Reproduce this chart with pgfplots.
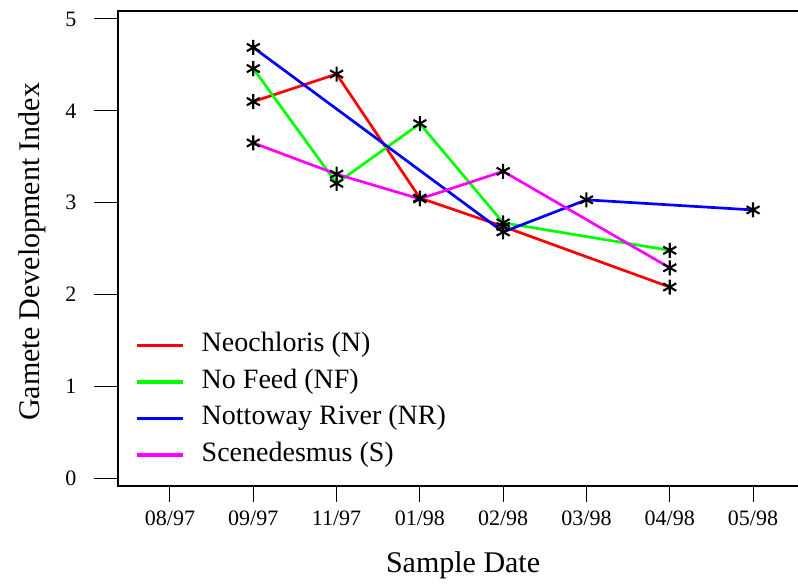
\documentclass[border=0pt]{standalone}
\usepackage{fontspec}
\setmainfont{Liberation Serif}
\usepackage{pgfplots}
\pgfplotsset{compat=1.18}
\usepackage{pgfplotstable}
\definecolor{rN}{RGB}{255,0,0}
\definecolor{gNF}{RGB}{0,255,0}
\definecolor{bNR}{RGB}{0,0,255}
\definecolor{mS}{RGB}{255,0,255}

\pgfplotstableread{
x y
1 4.10
2 4.40
3 3.05
4 2.74
6 2.08
}\neo
\pgfplotstableread{
x y
1 4.46
2 3.21
3 3.86
4 2.78
6 2.48
}\nofeed
\pgfplotstableread{
x y
1 4.69
4 2.68
5 3.03
7 2.92
}\nottoway
\pgfplotstableread{
x y
1 3.65
2 3.31
3 3.04
4 3.34
6 2.29
}\scene

\pgfplotsset{
  common/.style={
    at={(118pt,99pt)}, anchor=south west,
    scale only axis, width=682pt, height=475pt,
    xmin=-0.624, xmax=7.564,
    ymin=-0.087, ymax=5.087,
    tick pos=left, tick align=outside,
    axis line style={line width=1.2pt},
    /pgf/number format/assume math mode=true,
    tick label style={font=\fontsize{22}{24}\selectfont},
    clip=false,
  }
}

\begin{document}
\begin{tikzpicture}[x=1pt,y=1pt]
\useasboundingbox (0,0) rectangle (798,585);
% y ticks axis (no data)
\begin{axis}[common,
  ytick={0,1,2,3,4,5},
  xtick=\empty,
  major tick length=24pt,
  ytick style={black, line width=1pt},
  yticklabel style={xshift=-14pt},
  ylabel={Gamete Development Index},
  every axis y label/.style={at={(axis description cs:-0.125,0.493)}, anchor=center, rotate=90,
    font=\fontsize{30}{34}\selectfont},
]
\end{axis}
\begin{axis}[common,
  xtick={0,1,2,3,4,5,6,7},
  xticklabels={08/97,09/97,11/97,01/98,02/98,03/98,04/98,05/98},
  ytick=\empty,
  major tick length=16pt,
  xtick style={black, line width=1pt},
  xticklabel style={yshift=-5pt},
  xlabel={Sample Date},
  every axis x label/.style={at={(axis description cs:0.506,-0.166)}, anchor=center,
    font=\fontsize{30}{34}\selectfont},
  legend style={at={(axis description cs:0.025,0.327)}, anchor=north west, draw=none, fill=none,
    font=\fontsize{28}{30}\selectfont, inner sep=0pt, row sep=7.5pt,
    nodes={inner sep=1pt, text height=20pt, text depth=7pt},
    /tikz/every odd column/.append style={column sep=16pt}},
  legend cell align=left,
  legend image code/.code={\draw[#1, line width=3.5pt] (0pt,0pt) -- (46pt,0pt);},
]
\addplot[rN, line width=2.7pt, no markers] table[x=x,y=y] {\neo};
\addlegendentry{Neochloris (N)}
\addplot[gNF, line width=2.7pt, no markers] table[x=x,y=y] {\nofeed};
\addlegendentry{No Feed (NF)}
\addplot[bNR, line width=2.7pt, no markers] table[x=x,y=y] {\nottoway};
\addlegendentry{Nottoway River (NR)}
\addplot[mS, line width=2.7pt, no markers] table[x=x,y=y] {\scene};
\addlegendentry{Scenedesmus (S)}
\addplot[only marks, mark=asterisk, mark size=7.5pt, black, mark options={line width=2.1pt}, forget plot] table[x=x,y=y] {\neo};
\addplot[only marks, mark=asterisk, mark size=7.5pt, black, mark options={line width=2.1pt}, forget plot] table[x=x,y=y] {\nofeed};
\addplot[only marks, mark=asterisk, mark size=7.5pt, black, mark options={line width=2.1pt}, forget plot] table[x=x,y=y] {\nottoway};
\addplot[only marks, mark=asterisk, mark size=7.5pt, black, mark options={line width=2.1pt}, forget plot] table[x=x,y=y] {\scene};
\end{axis}
\end{tikzpicture}
\end{document}
